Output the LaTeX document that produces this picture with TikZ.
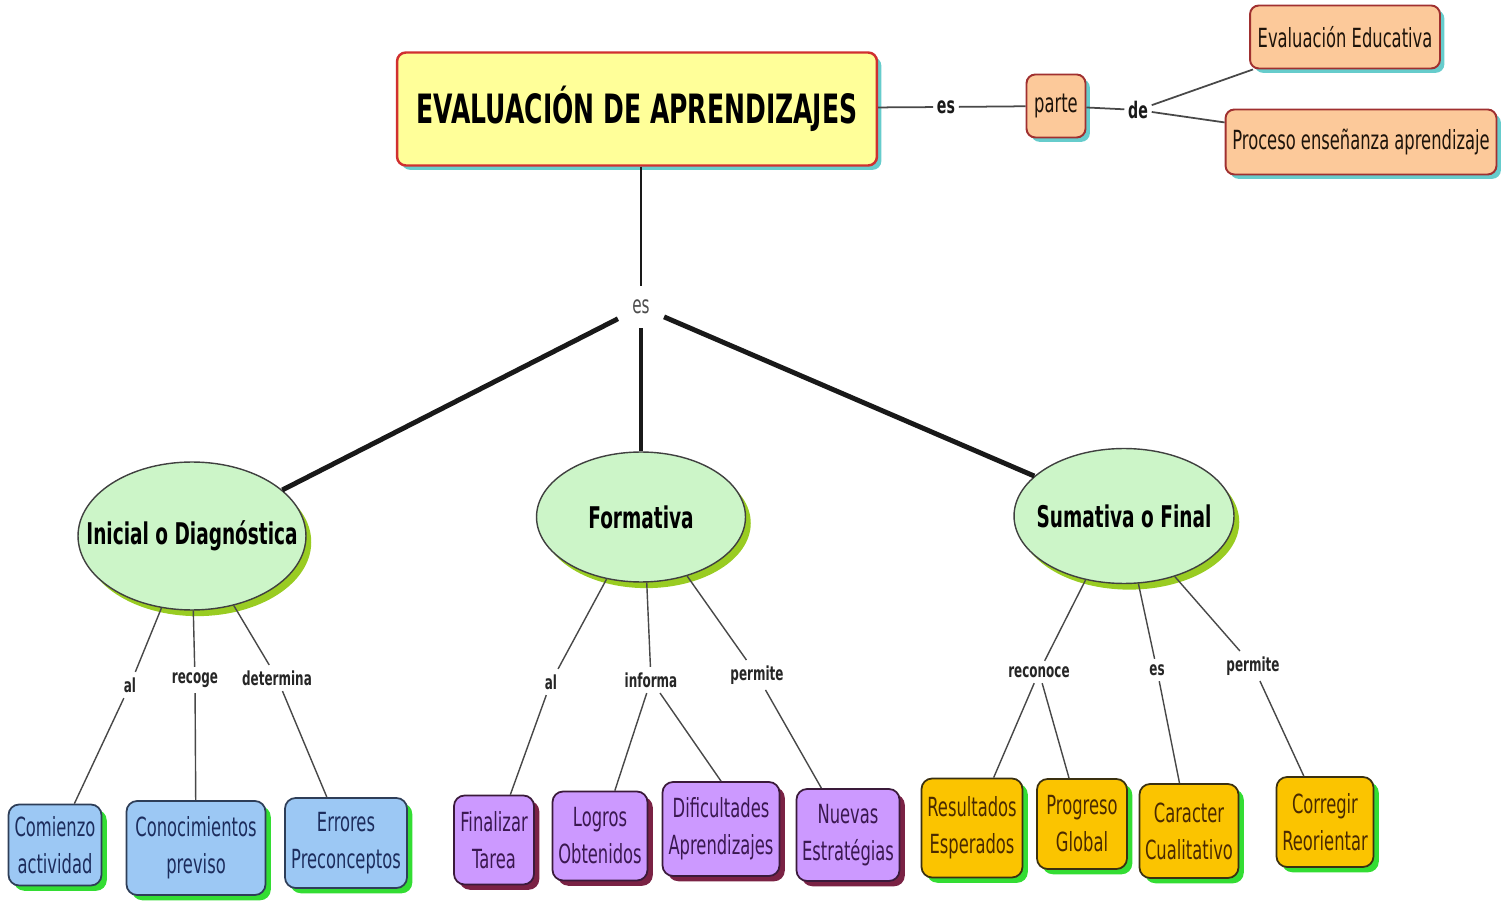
\documentclass[tikz,border=0pt]{standalone}
\usepackage{fontspec}
\setmainfont{DejaVu Sans}[FakeStretch=0.62]
\usetikzlibrary{shapes.geometric,shadows}
\definecolor{titlefill}{HTML}{FFFF99}
\definecolor{titleline}{HTML}{D03030}
\definecolor{cyanshadow}{HTML}{66CCCC}
\definecolor{peach}{HTML}{FCC99A}
\definecolor{peachline}{HTML}{A03030}
\definecolor{ellfill}{HTML}{CCF5C8}
\definecolor{ellshadow}{HTML}{99CC22}
\definecolor{bluefill}{HTML}{9CC8F4}
\definecolor{blueline}{HTML}{2E3E58}
\definecolor{bluetext}{HTML}{1C2C5C}
\definecolor{greenshadow}{HTML}{33DD33}
\definecolor{purplefill}{HTML}{CC99FF}
\definecolor{purpleline}{HTML}{3A1A3A}
\definecolor{purpletext}{HTML}{3A1850}
\definecolor{purpleshadow}{HTML}{7A2244}
\definecolor{goldfill}{HTML}{FBC400}
\definecolor{goldline}{HTML}{3A3010}
\definecolor{goldtext}{HTML}{4A2A00}
\definecolor{linkgray}{HTML}{484848}
\tikzset{
  titlebox/.style={draw=titleline, line width=1.4pt, fill=titlefill, rounded corners=5pt,
    drop shadow={shadow xshift=2.5pt, shadow yshift=-2.5pt, fill=cyanshadow, opacity=1},
    font=\fontsize{23}{27}\selectfont\bfseries, inner sep=0pt},
  peachbox/.style={draw=peachline, line width=1.1pt, fill=peach, rounded corners=5pt,
    drop shadow={shadow xshift=2.5pt, shadow yshift=-2.5pt, fill=cyanshadow, opacity=1},
    font=\fontsize{15}{19}\selectfont, text=black!85!brown, inner sep=0pt},
  typeell/.style={ellipse, draw=black!75, line width=0.8pt, fill=ellfill,
    drop shadow={shadow xshift=3pt, shadow yshift=-3.5pt, fill=ellshadow, opacity=1},
    font=\fontsize{17}{20}\selectfont\bfseries, inner sep=0pt},
  bluebox/.style={draw=blueline, line width=1pt, fill=bluefill, rounded corners=6pt, align=center,
    drop shadow={shadow xshift=3pt, shadow yshift=-3pt, fill=greenshadow, opacity=1},
    font=\fontsize{15}{21}\selectfont, text=bluetext, inner sep=0pt},
  purplebox/.style={draw=purpleline, line width=1pt, fill=purplefill, rounded corners=6pt, align=center,
    drop shadow={shadow xshift=3pt, shadow yshift=-3pt, fill=purpleshadow, opacity=1},
    font=\fontsize{15}{21}\selectfont, text=purpletext, inner sep=0pt},
  goldbox/.style={draw=goldline, line width=1pt, fill=goldfill, rounded corners=6pt, align=center,
    drop shadow={shadow xshift=3pt, shadow yshift=-3pt, fill=greenshadow, opacity=1},
    font=\fontsize{15}{21}\selectfont, text=goldtext, inner sep=0pt},
  linklabel/.style={font=\fontsize{11}{13}\selectfont\bfseries, text=black!85, inner sep=3pt},
  toplabel/.style={font=\fontsize{13}{15}\selectfont\bfseries, text=black!90, inner sep=2pt},
  thin/.style={draw=linkgray, line width=0.8pt},
  thick/.style={draw=black!90, line width=2.8pt},
}
\begin{document}
\begin{tikzpicture}[x=0.02cm, y=-0.02cm]
\useasboundingbox (0,0) rectangle (1507,911);
% top
\node[titlebox, minimum width=9.6cm, minimum height=2.26cm] (title) at (637,109) {EVALUACIÓN DE APRENDIZAJES};
\node[toplabel] (es2) at (946,107) {es};
\node[peachbox, minimum width=1.18cm, minimum height=1.26cm] (parte) at (1056,106) {parte};
\node[toplabel] (de) at (1138,110) {de};
\node[peachbox, minimum width=3.8cm, minimum height=1.26cm] (evaled) at (1345,37) {Evaluación Educativa};
\node[peachbox, minimum width=5.42cm, minimum height=1.3cm] (proceso) at (1361,142) {Proceso enseñanza aprendizaje};
\draw[thin, line width=1pt] (title) -- (es2);
\draw[thin, line width=1pt] (es2) -- (parte);
\draw[thin, line width=1pt] (parte) -- (de);
\draw[thin, line width=1pt] (de) -- (evaled);
\draw[thin, line width=1pt] (de) -- (proceso);
% es central
\node[font=\fontsize{14}{16}\selectfont, text=black!70, inner sep=8pt] (es) at (641,307) {es};
\node[typeell, minimum width=4.56cm, minimum height=2.96cm] (ini) at (192,536) {\makebox[0pt]{Inicial o Diagnóstica}};
\node[typeell, minimum width=4.18cm, minimum height=2.6cm] (form) at (641,517) {\makebox[0pt]{Formativa}};
\node[typeell, minimum width=4.4cm, minimum height=2.7cm] (sum) at (1124,516) {\makebox[0pt]{Sumativa o Final}};
\draw[draw=black!90, line width=1.5pt] (title.south -| es) -- (es);
\draw[thick] (es) -- (ini.27);
\draw[thick, line width=2pt] (es) -- (form);
\draw[thick] (es) -- (sum.156);
% Inicial branch
\node[linklabel] (al1) at (130,685) {al};
\node[linklabel] (recoge) at (195,680) {recoge};
\node[linklabel] (determina) at (277,678) {determina};
\node[bluebox, minimum width=1.86cm, minimum height=1.62cm] (comienzo) at (55,845) {Comienzo\\actividad};
\node[bluebox, minimum width=2.78cm, minimum height=1.88cm] (conoc) at (196,848) {Conocimientos\\previso};
\node[bluebox, minimum width=2.44cm, minimum height=1.8cm] (errores) at (346,843) {Errores\\Preconceptos};
\draw[thin] (ini.-113) -- (al1);
\draw[thin] (al1) -- (comienzo);
\draw[thin] (ini.-89) -- (recoge);
\draw[thin] (recoge) -- (conoc);
\draw[thin] (ini.-59) -- (determina);
\draw[thin] (determina) -- (errores);
% Formativa branch
\node[linklabel] (al2) at (551,682) {al};
\node[linklabel] (informa) at (651,680) {informa};
\node[linklabel] (permite1) at (757,675) {permite};
\node[purplebox, minimum width=1.6cm, minimum height=1.78cm] (finalizar) at (494,840) {Finalizar\\Tarea};
\node[purplebox, minimum width=1.9cm, minimum height=1.78cm] (logros) at (600,836) {Logros\\Obtenidos};
\node[purplebox, minimum width=2.34cm, minimum height=1.88cm] (dific) at (721,829) {Dificultades\\Aprendizajes};
\node[purplebox, minimum width=2.06cm, minimum height=1.84cm] (nuevas) at (848,835) {Nuevas\\Estratégias};
\draw[thin] (form.-119) -- (al2);
\draw[thin] (al2) -- (finalizar);
\draw[thin] (form.-85) -- (informa);
\draw[thin] (informa) -- (logros);
\draw[thin] (informa) -- (dific.north);
\draw[thin] (form.-52) -- (permite1);
\draw[thin] (permite1) -- (nuevas);
% Sumativa branch
\node[linklabel] (reconoce) at (1039,672) {reconoce};
\node[linklabel] (es3) at (1157,670) {es};
\node[linklabel] (permite2) at (1253,666) {permite};
\node[goldbox, minimum width=2.02cm, minimum height=1.98cm] (result) at (972,828) {Resultados\\Esperados};
\node[goldbox, minimum width=1.8cm, minimum height=1.8cm] (progreso) at (1082,824) {Progreso\\Global};
\node[goldbox, minimum width=1.98cm, minimum height=1.88cm] (caracter) at (1189,831) {Caracter\\Cualitativo};
\node[goldbox, minimum width=1.94cm, minimum height=1.8cm] (corregir) at (1325,822) {Corregir\\Reorientar};
\draw[thin] (sum.-121) -- (reconoce);
\draw[thin] (reconoce) -- (result);
\draw[thin] (reconoce) -- (progreso);
\draw[thin] (sum.-78) -- (es3);
\draw[thin] (es3) -- (caracter);
\draw[thin] (sum.-50) -- (permite2);
\draw[thin] (permite2) -- (corregir);
\end{tikzpicture}
\end{document}
